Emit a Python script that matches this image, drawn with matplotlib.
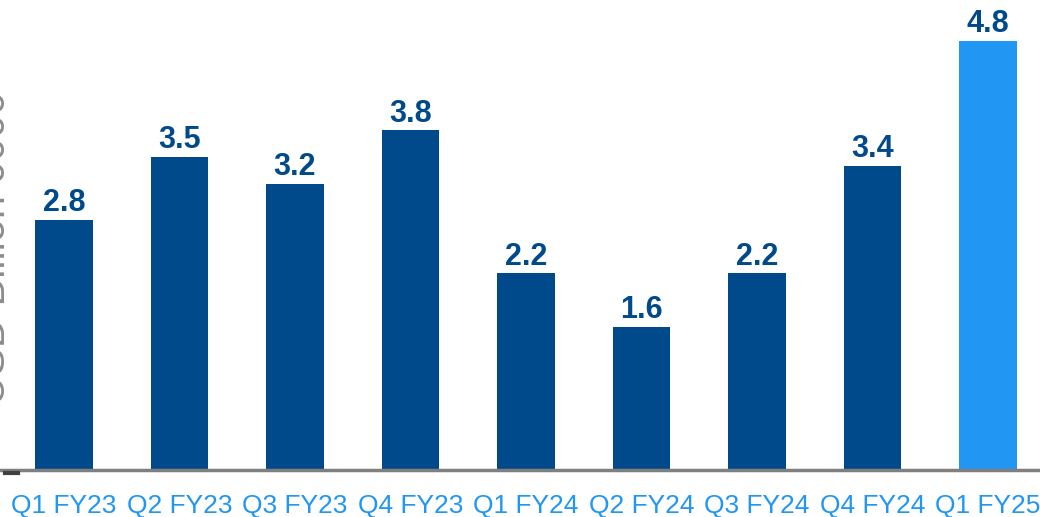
import matplotlib.pyplot as plt

plt.rcParams['font.family'] = ['Liberation Sans', 'DejaVu Sans']

quarters = ["Q1 FY23", "Q2 FY23", "Q3 FY23", "Q4 FY23", "Q1 FY24",
            "Q2 FY24", "Q3 FY24", "Q4 FY24", "Q1 FY25"]
values = [2.8, 3.5, 3.2, 3.8, 2.2, 1.6, 2.2, 3.4, 4.8]

dark_blue = "#004A8B"
light_blue = "#2196F3"
colors = [dark_blue] * (len(values) - 1) + [light_blue]

fig = plt.figure(figsize=(10.4, 5.17), dpi=100)
ax = fig.add_axes([0, 47 / 517, 1, 470 / 517])

x = list(range(len(quarters)))
bars = ax.bar(x, values, width=0.5, color=colors, zorder=2)

for xi, v in zip(x, values):
    ax.text(xi, v + 0.02, f"{v:.1f}", ha="center", va="bottom",
            fontsize=22, fontweight="bold", color=dark_blue)

ax.set_xlim(-0.554, 8.45)
ax.set_ylim(0, 5.26)

for s in ["top", "right", "left"]:
    ax.spines[s].set_visible(False)
ax.spines["bottom"].set_color("#7F7F7F")
ax.spines["bottom"].set_linewidth(2.5)

ax.set_yticks([])
ax.set_xticks(x)
ax.set_xticklabels(quarters, fontsize=19, color=light_blue)
ax.tick_params(axis="x", length=0, pad=17)

# axis title cut off at the left edge
fig.text(14 / 1040, 0.52, "USD Billion 0000", rotation=90, ha="right",
         va="center", fontsize=30, color="#8C8C8C")
fig.add_artist(plt.Line2D([5 / 1040, 18 / 1040], [44 / 517, 44 / 517],
                          color="#404040", linewidth=3))

fig.savefig("out.png", dpi=100)
